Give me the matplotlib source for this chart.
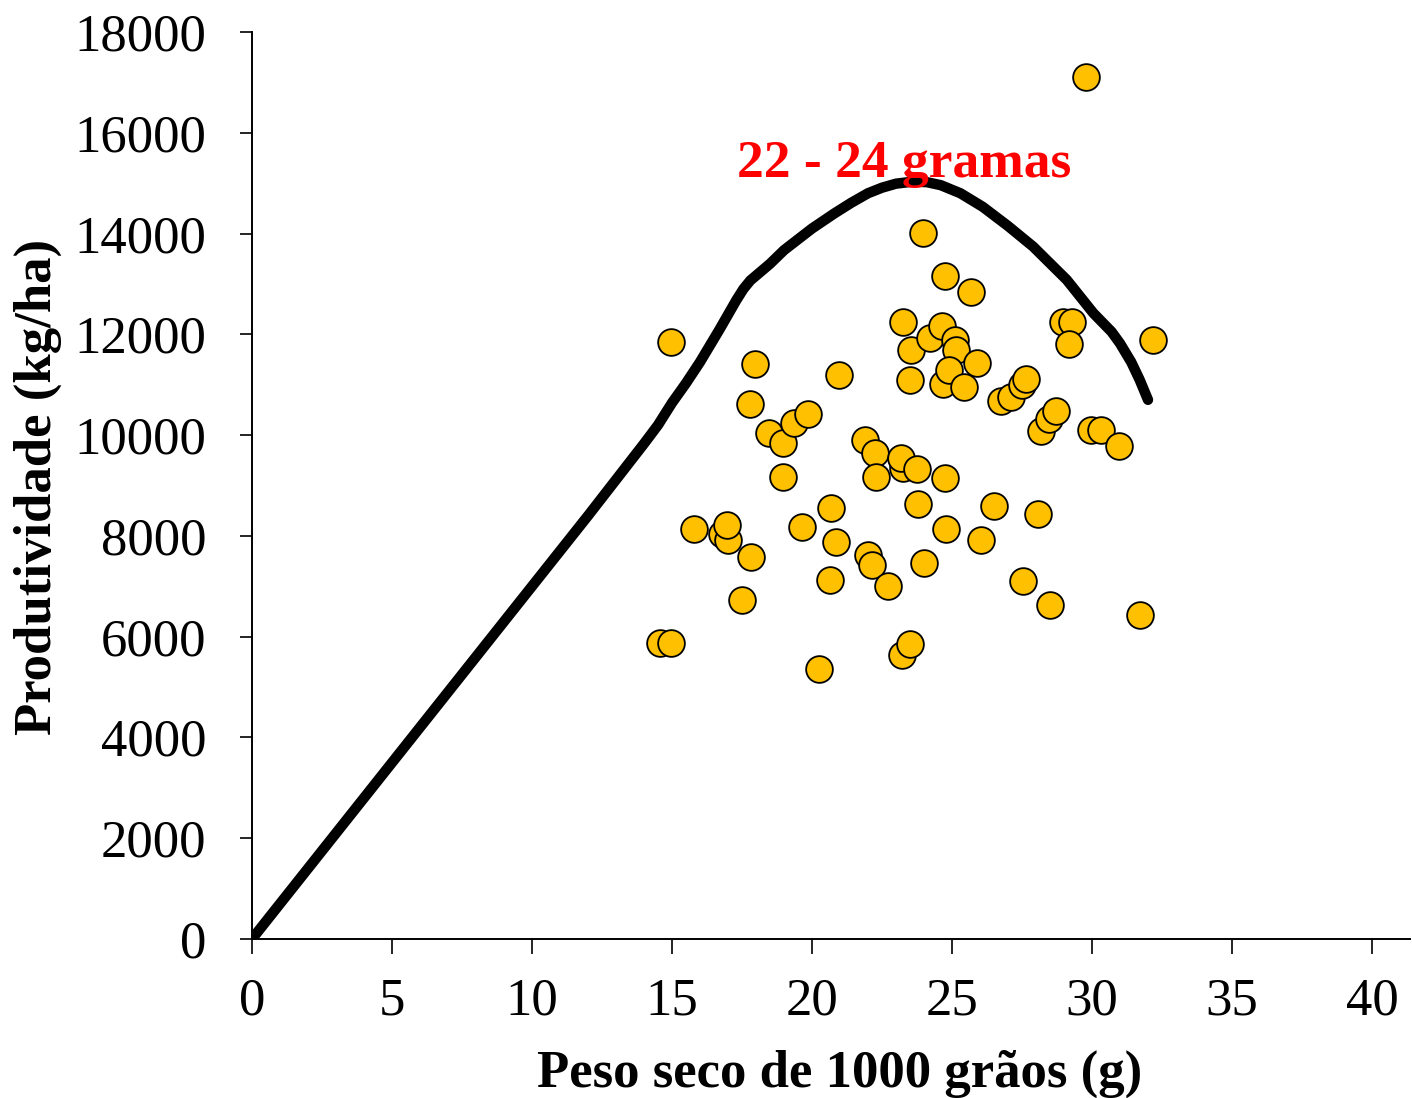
import matplotlib
matplotlib.use("Agg")
import matplotlib.pyplot as plt

# ---- data ----
weight_g = [14.96, 14.57, 14.96, 15.79, 16.79, 17.00, 16.96, 17.50, 17.82, 17.79,
            17.96, 18.46, 18.96, 18.96, 19.36, 19.86, 19.64, 20.25, 20.64, 20.68,
            20.86, 20.96, 21.89, 22.00, 22.14, 22.25, 22.29, 22.71, 23.25, 23.21,
            23.50, 23.25, 23.18, 23.50, 23.54, 23.75, 23.79, 24.00, 23.96, 24.21,
            24.75, 24.64, 24.68, 25.11, 25.14, 24.89, 24.75, 24.79, 25.43, 25.68,
            25.89, 26.04, 26.50, 26.75, 27.11, 27.50, 27.64, 27.54, 28.07, 28.18,
            28.46, 28.71, 28.50, 28.96, 29.29, 29.18, 29.79, 29.96, 30.32, 30.96,
            31.71, 32.18]
yield_kg = [11850, 5870, 5870, 8140, 8040, 7920, 8220, 6730, 7580, 10620,
            11410, 10040, 9840, 9170, 10240, 10420, 8180, 5360, 7120, 8550,
            7880, 11190, 9900, 7620, 7420, 9650, 9170, 7000, 12250, 5640,
            5850, 9350, 9550, 11090, 11690, 9330, 8630, 7460, 14010, 11930,
            13160, 12170, 11010, 11890, 11690, 11290, 9150, 8140, 10960, 12840,
            11430, 7920, 8590, 10680, 10760, 10990, 11110, 7100, 8430, 10080,
            10320, 10480, 6630, 12250, 12250, 11810, 17110, 10100, 10100, 9780,
            6430, 11890]

curve_x = [0, 5, 10, 12, 14, 14.5, 15, 15.5, 16, 16.7, 17.3, 17.55, 17.8, 18.5,
           19.0, 20.0, 20.8, 21.4, 22.0, 22.5, 23.0, 23.6, 24.1, 24.6, 25.3, 26.1,
           27.0, 27.9, 29.1, 30.05, 30.7, 31.0, 31.4, 31.7, 32.0]
curve_y = [0, 3500, 7000, 8400, 9830, 10200, 10640, 11030, 11450, 12100, 12680,
           12900, 13070, 13400, 13670, 14100, 14400, 14610, 14800, 14910, 14990,
           15030, 15020, 14960, 14800, 14530, 14150, 13740, 13080, 12420, 12050,
           11820, 11450, 11100, 10700]

x_ticks = [0, 5, 10, 15, 20, 25, 30, 35, 40]
y_ticks = [0, 2000, 4000, 6000, 8000, 10000, 12000, 14000, 16000, 18000]
annotation = "22 - 24 gramas"
x_label = "Peso seco de 1000 grãos (g)"
y_label = "Produtividade (kg/ha)"

plt.rcParams['font.family'] = ['Liberation Serif', 'DejaVu Serif']

fig = plt.figure(figsize=(14.12, 10.98), dpi=100)
ax = fig.add_axes([252/1412, (1098-939)/1098, (1410-252)/1412, (939-32)/1098])

ax.plot(curve_x, curve_y, color='black', lw=7.5, solid_capstyle='round',
        solid_joinstyle='round', zorder=2)
ax.scatter(weight_g, yield_kg, s=370, c='#FFC000', edgecolors='black',
           linewidths=1.3, zorder=3)

ax.set_xlim(0, (1410-252)/28)
ax.set_ylim(0, 18000)
ax.set_xticks(x_ticks)
ax.set_yticks(y_ticks)
ax.set_xticklabels([str(t) for t in x_ticks])
ax.set_yticklabels([str(t) for t in y_ticks])

for s in ['top', 'right']:
    ax.spines[s].set_visible(False)
for s in ['left', 'bottom']:
    ax.spines[s].set_linewidth(1.4)

ax.tick_params(axis='y', direction='out', length=9, width=1.2, labelsize=38, pad=24)
ax.tick_params(axis='x', direction='out', length=11, width=1.2, labelsize=38, pad=17)

ax.set_xlabel(x_label, fontsize=38, fontweight='bold')
ax.xaxis.set_label_coords((840-252)/1158, -(1074-939)/907)
ax.xaxis.label.set_va('center')
ax.set_ylabel(y_label, fontsize=38, fontweight='bold')
ax.yaxis.set_label_coords((38-252)/1158, (939-487)/907)
ax.yaxis.label.set_va('center')

ax.text(23.29, 15130, annotation, color='red', fontsize=38.5, fontweight='bold',
        ha='center', va='baseline', zorder=4)

fig.savefig('out.png', dpi=100)
